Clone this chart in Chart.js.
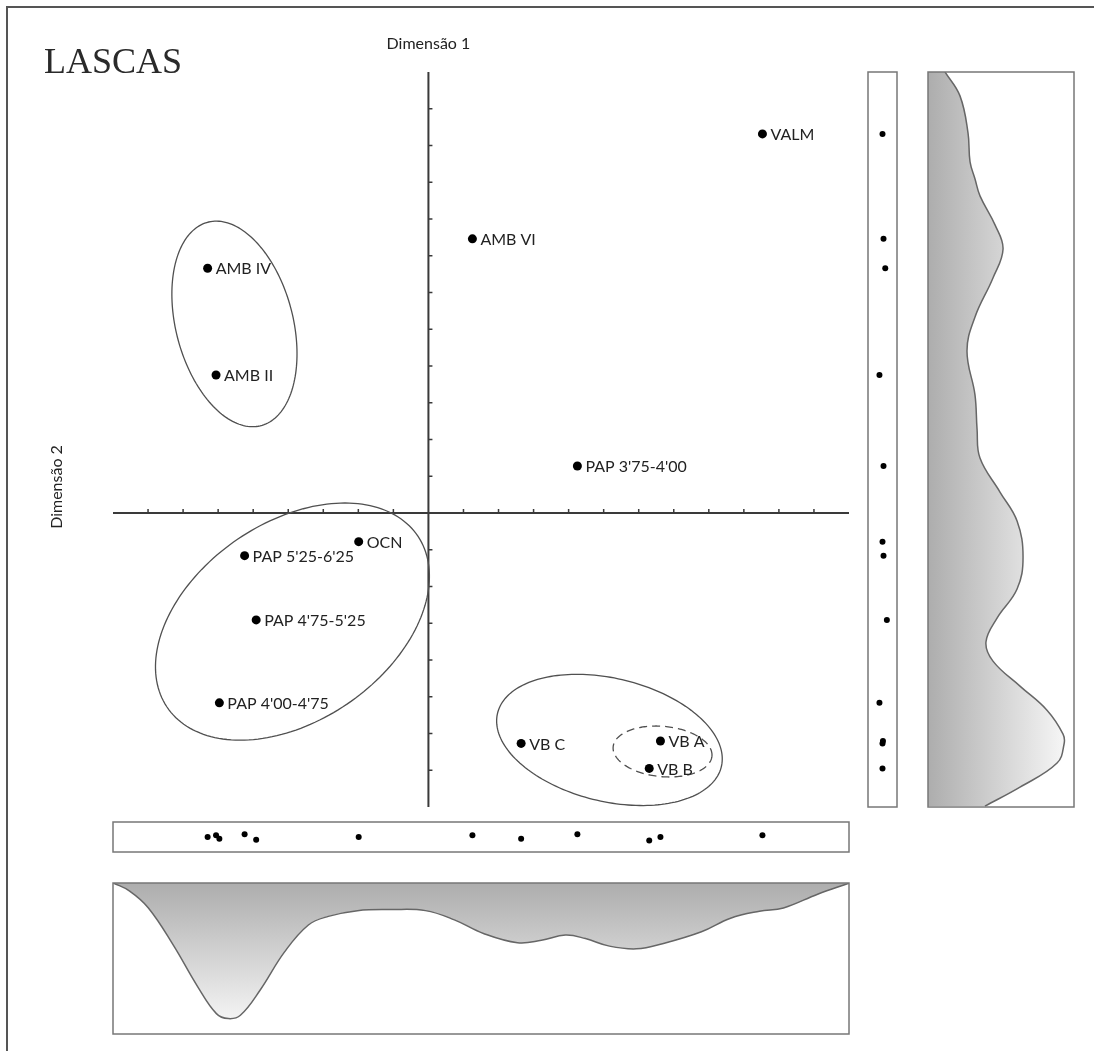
<!DOCTYPE html>
<html>
<head>
<meta charset="utf-8">
<script src="https://cdn.jsdelivr.net/npm/chart.js@4.4.1/dist/chart.umd.min.js"></script>
<style>
  html, body { margin: 0; padding: 0; background: #fff; }
  #wrap { position: relative; width: 1094px; height: 1051px; overflow: hidden; }
  canvas { position: absolute; }
</style>
</head>
<body>
<div id="wrap">
  <canvas id="mainChart" width="1094" height="1051" style="left:0;top:0"></canvas>
  <canvas id="rugBottom" width="740" height="34" style="left:111px;top:820px"></canvas>
  <canvas id="rugRight" width="33" height="739" style="left:866px;top:70px"></canvas>
  <canvas id="densRight" width="150" height="739" style="left:926px;top:70px"></canvas>
  <canvas id="densBottom" width="740" height="155" style="left:111px;top:881px"></canvas>
</div>
<script>
// sites and their scores on the two dimensions
const sites = ['VALM', 'AMB VI', 'AMB IV', 'AMB II', "PAP 3'75-4'00", 'OCN', "PAP 5'25-6'25", "PAP 4'75-5'25", "PAP 4'00-4'75", 'VB C', 'VB A', 'VB B'];
const dim1 = [1.906, 0.251, -1.260, -1.212, 0.850, -0.398, -1.049, -0.983, -1.193, 0.529, 1.324, 1.260];
const dim2 = [2.063, 1.492, 1.332, 0.751, 0.256, -0.156, -0.232, -0.582, -1.033, -1.254, -1.241, -1.390];

// small jitter of the rug dots (same order as sites)
const jitterBottom = [0.12, 0.12, 0, 0.12, 0.18, 0, 0.18, -0.18, -0.12, -0.12, 0, -0.24];
const jitterRight = [0, 0.07, 0.19, -0.21, 0.07, 0, 0.07, 0.3, -0.21, 0, 0.03, 0];

// group ellipses (data units)
const groupCx = [-1.107, -0.776, 1.033, 1.336];
const groupCy = [1.029, -0.591, -1.235, -1.298];
const groupRx = [0.574, 0.854, 0.655, 0.283];
const groupRy = [0.333, 0.546, 0.336, 0.137];
const groupAngle = [-74, 31.6, -12.4, -5];

// density along dimension 2 (right panel)
const densRightPos = [2.401, 2.270, 2.069, 1.911, 1.818, 1.726, 1.568, 1.437, 1.279, 1.067, 0.882, 0.642, 0.457, 0.299, 0.114, -0.044, -0.240, -0.414, -0.572, -0.702, -0.806, -0.942, -1.073, -1.203, -1.257, -1.361, -1.492, -1.595];
const densRightVal = [0.116, 0.219, 0.274, 0.288, 0.322, 0.356, 0.459, 0.514, 0.445, 0.322, 0.267, 0.322, 0.336, 0.356, 0.493, 0.610, 0.651, 0.610, 0.473, 0.397, 0.445, 0.630, 0.815, 0.925, 0.932, 0.884, 0.630, 0.390];

// density along dimension 1 (bottom panel)
const densBottomPos = [-1.798, -1.707, -1.598, -1.455, -1.318, -1.210, -1.142, -1.073, -0.959, -0.822, -0.685, -0.571, -0.405, -0.211, -0.017, 0.148, 0.314, 0.508, 0.645, 0.782, 0.896, 1.033, 1.187, 1.336, 1.558, 1.724, 1.889, 2.026, 2.221, 2.403];
const densBottomVal = [0, 0.052, 0.165, 0.413, 0.684, 0.865, 0.898, 0.876, 0.707, 0.458, 0.278, 0.221, 0.183, 0.176, 0.183, 0.244, 0.334, 0.395, 0.379, 0.345, 0.368, 0.418, 0.436, 0.402, 0.323, 0.233, 0.187, 0.165, 0.074, 0];

const X_MIN = -1.8, X_MAX = 2.4, Y_MIN = -1.6, Y_MAX = 2.4, STEP = 0.2;
const labelFont = '16px Lato, "Open Sans", sans-serif';

const noPlugins = { legend: { display: false }, tooltip: { enabled: false } };
const sideLayout = { padding: 2, autoPadding: false };

// axes, ellipses, titles and labels of the main plot
const mainPlugin = {
  id: 'mainDecor',
  beforeDatasetsDraw(chart) {
    const { ctx, scales: { x, y } } = chart;
    const x0 = x.getPixelForValue(0), y0 = y.getPixelForValue(0);
    ctx.save();
    // frame
    ctx.strokeStyle = '#555';
    ctx.lineWidth = 2;
    ctx.beginPath();
    ctx.moveTo(7, 1051); ctx.lineTo(7, 7); ctx.lineTo(1094, 7);
    ctx.stroke();

    // axes
    ctx.strokeStyle = '#3a3a3a';
    ctx.lineWidth = 2;
    ctx.beginPath();
    ctx.moveTo(x.getPixelForValue(X_MIN), y0); ctx.lineTo(x.getPixelForValue(X_MAX), y0);
    ctx.moveTo(x0, y.getPixelForValue(Y_MAX)); ctx.lineTo(x0, y.getPixelForValue(Y_MIN));
    ctx.stroke();
    ctx.lineWidth = 1.5;
    ctx.beginPath();
    for (let k = Math.round(X_MIN / STEP) + 1; k < Math.round(X_MAX / STEP); k++) {
      if (k === 0) continue;
      const px = x.getPixelForValue(k * STEP);
      ctx.moveTo(px, y0); ctx.lineTo(px, y0 - 4);
    }
    for (let k = Math.round(Y_MIN / STEP) + 1; k < Math.round(Y_MAX / STEP); k++) {
      if (k === 0) continue;
      const py = y.getPixelForValue(k * STEP);
      ctx.moveTo(x0, py); ctx.lineTo(x0 + 4, py);
    }
    ctx.stroke();

    // group ellipses
    ctx.strokeStyle = '#505050';
    ctx.lineWidth = 1.3;
    groupCx.forEach((cx, g) => {
      const th = groupAngle[g] * Math.PI / 180;
      ctx.setLineDash(g === 3 ? [8, 5] : []);
      ctx.beginPath();
      for (let i = 0; i <= 180; i++) {
        const t = i / 180 * Math.PI * 2;
        const ex = groupRx[g] * Math.cos(t), ey = groupRy[g] * Math.sin(t);
        const dx = ex * Math.cos(th) - ey * Math.sin(th);
        const dy = ex * Math.sin(th) + ey * Math.cos(th);
        const px = x.getPixelForValue(cx + dx), py = y.getPixelForValue(groupCy[g] + dy);
        if (i === 0) ctx.moveTo(px, py); else ctx.lineTo(px, py);
      }
      ctx.closePath();
      ctx.stroke();
    });
    ctx.setLineDash([]);

    // titles
    ctx.fillStyle = '#2a2a2a';
    ctx.font = '36px "Liberation Serif", serif';
    ctx.textAlign = 'left';
    ctx.textBaseline = 'alphabetic';
    ctx.fillText('LASCAS', 44, 73);
    ctx.font = labelFont;
    ctx.fillStyle = '#222';
    ctx.textAlign = 'center';
    ctx.textBaseline = 'middle';
    ctx.fillText('Dimensão 1', x0, 44);
    ctx.translate(57, 487);
    ctx.rotate(-Math.PI / 2);
    ctx.fillText('Dimensão 2', 0, 0);
    ctx.restore();
  },
  afterDatasetsDraw(chart) {
    const { ctx } = chart;
    const meta = chart.getDatasetMeta(0);
    ctx.save();
    ctx.font = labelFont;
    ctx.fillStyle = '#222';
    ctx.textAlign = 'left';
    ctx.textBaseline = 'middle';
    meta.data.forEach((pt, i) => {
      ctx.fillText(sites[i], pt.x + 8, pt.y + 1);
    });
    ctx.restore();
  }
};

// outline box for the side panels
const boxPlugin = {
  id: 'box',
  afterDraw(chart) {
    const { ctx, chartArea: a } = chart;
    ctx.save();
    ctx.strokeStyle = '#777';
    ctx.lineWidth = 1.5;
    ctx.strokeRect(a.left, a.top, a.right - a.left, a.bottom - a.top);
    ctx.restore();
  }
};

new Chart(document.getElementById('mainChart'), {
  type: 'scatter',
  data: {
    datasets: [{
      data: dim1.map((v, i) => ({ x: v, y: dim2[i] })),
      backgroundColor: '#000',
      borderWidth: 0,
      pointRadius: 4.5
    }]
  },
  options: {
    responsive: false,
    animation: false,
    layout: { padding: { left: 113, top: 72, right: 245, bottom: 244 }, autoPadding: false },
    plugins: noPlugins,
    scales: {
      x: { type: 'linear', display: false, min: X_MIN, max: X_MAX },
      y: { type: 'linear', display: false, min: Y_MIN, max: Y_MAX }
    }
  },
  plugins: [mainPlugin]
});

// rug along dimension 1
new Chart(document.getElementById('rugBottom'), {
  type: 'scatter',
  data: {
    datasets: [{
      data: dim1.map((v, i) => ({ x: v, y: jitterBottom[i] })),
      backgroundColor: '#000',
      borderWidth: 0,
      pointRadius: 3
    }]
  },
  options: {
    responsive: false,
    animation: false,
    layout: sideLayout,
    plugins: noPlugins,
    scales: {
      x: { type: 'linear', display: false, min: X_MIN, max: X_MAX },
      y: { type: 'linear', display: false, min: -1, max: 1 }
    }
  },
  plugins: [boxPlugin]
});

// rug along dimension 2
new Chart(document.getElementById('rugRight'), {
  type: 'scatter',
  data: {
    datasets: [{
      data: dim2.map((v, i) => ({ x: jitterRight[i], y: v })),
      backgroundColor: '#000',
      borderWidth: 0,
      pointRadius: 3
    }]
  },
  options: {
    responsive: false,
    animation: false,
    layout: sideLayout,
    plugins: noPlugins,
    scales: {
      x: { type: 'linear', display: false, min: -1, max: 1 },
      y: { type: 'linear', display: false, min: Y_MIN, max: Y_MAX }
    }
  },
  plugins: [boxPlugin]
});

function grayGradient(horizontal) {
  return function (context) {
    const { ctx, chartArea } = context.chart;
    if (!chartArea) return null;
    const g = horizontal
      ? ctx.createLinearGradient(chartArea.left, 0, chartArea.right, 0)
      : ctx.createLinearGradient(0, chartArea.top, 0, chartArea.bottom);
    g.addColorStop(0, '#adadad');
    g.addColorStop(1, '#fbfbfb');
    return g;
  };
}

// density of dimension 2
new Chart(document.getElementById('densRight'), {
  type: 'line',
  data: {
    datasets: [{
      data: densRightPos.map((p, i) => ({ x: densRightVal[i], y: p })),
      borderColor: '#666',
      borderWidth: 1.5,
      pointRadius: 0,
      tension: 0.4,
      fill: { value: 0 },
      backgroundColor: grayGradient(true)
    }]
  },
  options: {
    indexAxis: 'y',
    responsive: false,
    animation: false,
    layout: sideLayout,
    plugins: noPlugins,
    scales: {
      x: { type: 'linear', display: false, min: 0, max: 1 },
      y: { type: 'linear', display: false, min: Y_MIN, max: Y_MAX }
    }
  },
  plugins: [boxPlugin]
});

// density of dimension 1
new Chart(document.getElementById('densBottom'), {
  type: 'line',
  data: {
    datasets: [{
      data: densBottomPos.map((p, i) => ({ x: p, y: densBottomVal[i] })),
      borderColor: '#666',
      borderWidth: 1.5,
      pointRadius: 0,
      tension: 0.4,
      fill: { value: 0 },
      backgroundColor: grayGradient(false)
    }]
  },
  options: {
    responsive: false,
    animation: false,
    layout: sideLayout,
    plugins: noPlugins,
    scales: {
      x: { type: 'linear', display: false, min: X_MIN, max: X_MAX },
      y: { type: 'linear', display: false, min: 0, max: 1, reverse: true }
    }
  },
  plugins: [boxPlugin]
});
</script>
</body>
</html>
